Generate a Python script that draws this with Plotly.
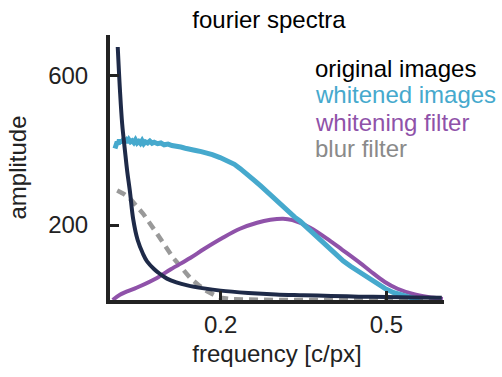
import plotly.graph_objects as go

# original images
f_orig = [0.014, 0.018, 0.022, 0.027, 0.031, 0.036, 0.042, 0.05, 0.06, 0.067, 0.08, 0.09,
          0.103, 0.12, 0.14, 0.17, 0.2, 0.25, 0.3, 0.35, 0.4, 0.45, 0.5, 0.55, 0.6]
a_orig = [675, 560, 470, 399, 345, 290, 215, 160, 122, 103, 82, 70,
          57, 47, 39, 31, 25, 19, 15, 13, 11, 9, 8, 7, 6]

# whitened images (noisy)
f_white = [0.009, 0.011, 0.013, 0.015, 0.017, 0.019, 0.021, 0.023, 0.025, 0.027, 0.029, 0.031,
           0.034, 0.037, 0.040, 0.043, 0.046, 0.049, 0.052, 0.055, 0.058, 0.061, 0.064, 0.068,
           0.072, 0.076, 0.080, 0.086, 0.092, 0.098, 0.105, 0.112, 0.120, 0.128, 0.136, 0.145,
           0.155, 0.165, 0.175, 0.185, 0.199, 0.212, 0.225, 0.235, 0.245, 0.253, 0.262, 0.272,
           0.280, 0.289, 0.298, 0.307, 0.316, 0.325, 0.334, 0.344, 0.356, 0.368, 0.380, 0.390,
           0.398, 0.410, 0.422, 0.435, 0.452, 0.466, 0.480, 0.497, 0.512, 0.530, 0.545, 0.560]
a_white = [404, 410, 422, 415, 428, 419, 426, 421, 431, 423, 426, 420,
           428, 422, 425, 420, 427, 419, 423, 418, 425, 417, 422, 419,
           424, 418, 421, 417, 419, 414, 416, 412, 411, 408, 405, 401,
           399, 396, 393, 388, 380, 372, 362, 351, 340, 329, 318, 305,
           294, 282, 268, 257, 245, 232, 221, 210, 193, 176, 160, 148,
           138, 120, 104, 90, 74, 58, 45, 31, 20, 11, 6, 3]

# whitening filter
f_wf = [0.005, 0.018, 0.05, 0.085, 0.11, 0.145, 0.17, 0.204, 0.235, 0.266, 0.29, 0.313,
        0.33, 0.362, 0.398, 0.42, 0.452, 0.47, 0.497, 0.52, 0.548, 0.575, 0.602]
a_wf = [0, 14, 34, 59, 82, 112, 136, 166, 190, 206, 214, 217,
        213, 193, 158, 134, 99, 78, 48, 30, 16, 8, 3]

# blur filter
f_blur = [0.013, 0.025, 0.036, 0.06, 0.085, 0.1, 0.114, 0.13, 0.145, 0.16, 0.175, 0.19,
          0.2, 0.22, 0.3, 0.45, 0.6]
a_blur = [292, 283, 271, 230, 177, 145, 113, 85, 59, 40, 24, 12,
          6, 2, 0, 0, 0]

legend_labels = ["original images", "whitened images", "whitening filter", "blur filter"]
legend_colors = ["#000000", "#46a9cd", "#8f52a9", "#8a8a8a"]

x_ticks = [0.2, 0.5]
y_ticks = [200, 600]

fig = go.Figure()
fig.add_trace(go.Scatter(x=f_blur, y=a_blur, mode="lines",
                         line=dict(color="#999999", width=4.5, dash="9px,6px"), hoverinfo="skip"))
fig.add_trace(go.Scatter(x=f_wf, y=a_wf, mode="lines", line_shape="spline",
                         line=dict(color="#8f52a9", width=4), hoverinfo="skip"))
fig.add_trace(go.Scatter(x=f_white, y=a_white, mode="lines",
                         line=dict(color="#46a9cd", width=5), hoverinfo="skip"))
fig.add_trace(go.Scatter(x=f_orig, y=a_orig, mode="lines", line_shape="spline",
                         line=dict(color="#1e2a48", width=4), hoverinfo="skip"))

ys = [68, 95, 122, 148]
for lab, col, py in zip(legend_labels, legend_colors, ys):
    fig.add_annotation(text=lab, xref="paper", yref="paper",
                       x=(313 - 110) / 334, y=(300 - py) / 265,
                       xanchor="left", yanchor="middle", showarrow=False,
                       font=dict(size=24, color=col))

fig.update_layout(
    width=502, height=377,
    margin=dict(l=110, r=58, t=35, b=77),
    plot_bgcolor="white", paper_bgcolor="white",
    font=dict(family="Liberation Sans, Arial, sans-serif", size=24, color="#222222"),
    showlegend=False,
    title=dict(text="fourier spectra", x=269 / 502, xanchor="center",
               y=1 - 20 / 377, yanchor="middle", font=dict(size=24, color="#000000")),
)
fig.update_xaxes(range=[0, 0.604], tickvals=x_ticks, ticktext=["0.2", "0.5"],
                 tickfont=dict(size=24), showgrid=False, zeroline=False,
                 showline=True, linewidth=4, linecolor="#222222",
                 ticks="inside", ticklen=9, tickwidth=3, tickcolor="#222222",
                 title=dict(text="frequency [c/px]", standoff=9, font=dict(size=24)))
fig.update_yaxes(range=[0, 707], tickvals=y_ticks, ticktext=["200", "600"],
                 tickfont=dict(size=24), showgrid=False, zeroline=False,
                 showline=True, linewidth=4, linecolor="#222222",
                 ticks="inside", ticklen=9, tickwidth=3, tickcolor="#222222",
                 ticklabelstandoff=13,
                 title=dict(text="amplitude", standoff=16, font=dict(size=24)))

fig.write_html("out.html", post_script="document.body.style.margin='0';",
               config={"displayModeBar": False})
